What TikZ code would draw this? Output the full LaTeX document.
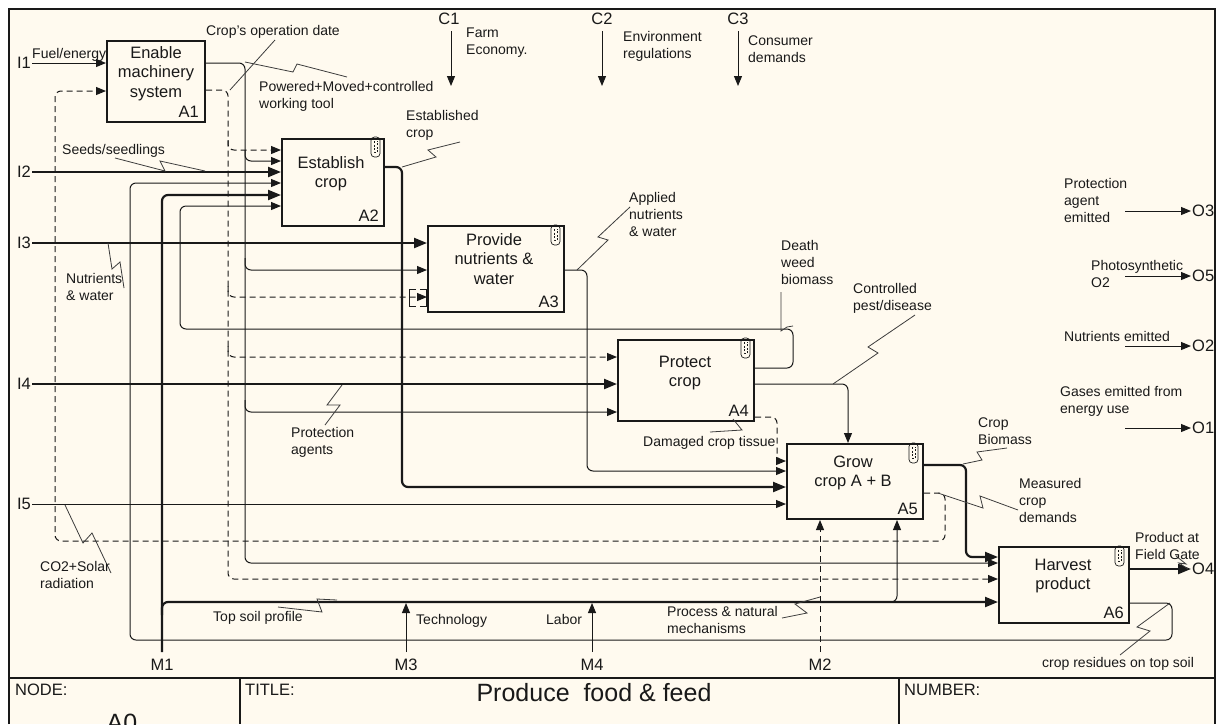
\documentclass[tikz,border=0pt]{standalone}
\usepackage{fontspec}
\setmainfont{Liberation Sans}
\usetikzlibrary{arrows.meta}
\definecolor{paper}{RGB}{255,250,239}
\definecolor{ink}{RGB}{25,25,25}
\newcommand{\lblfont}{\fontsize{14}{17.3}\selectfont}
\newcommand{\boxfont}{\fontsize{16.5}{19.5}\selectfont}
\newcommand{\icomfont}{\fontsize{16.5}{19.5}\selectfont}
\newcommand{\ttlfont}{\fontsize{25}{30}\selectfont}
\tikzset{
  box/.style={draw=ink,line width=2pt,inner sep=0pt},
  boxtitle/.style={font=\boxfont,align=center,inner sep=0pt,anchor=base,text=ink},
  boxnum/.style={font=\boxfont,inner sep=0pt,anchor=base east,text=ink},
  lbl/.style={font=\lblfont,align=left,inner sep=0pt,anchor=base west,text=ink},
  icom/.style={font=\icomfont,inner sep=0pt,text=ink},
  thn/.style={draw=ink,line width=1pt},
  thk/.style={draw=ink,line width=2.2pt},
  dsh/.style={draw=ink,line width=1pt,dash pattern=on 6pt off 4pt},
  arr/.style={-{Triangle[length=10pt,width=8pt]}},
  arrb/.style={-{Triangle[length=13pt,width=10pt]}},
  rc/.style={rounded corners=6pt},
  sq/.style={draw=ink!85,line width=0.8pt},
  clipicon/.pic={
    \draw[ink,line width=0.7pt,rounded corners=3.5pt] (0,0) -- (0,20) -- (9,20) -- (9,0) -- cycle;
    \draw[ink,line width=0.6pt,dash pattern=on 2pt off 1.5pt] (3,4) -- (3,15) -- (6,15) -- (6,4);
  }
}
\begin{document}
\begin{tikzpicture}[x=1pt,y=-1pt]
\useasboundingbox (0,0) rectangle (1218,724);
\fill[white] (0,0) rectangle (1218,724);
\fill[paper] (9,9) rectangle (1215,724);
\draw[ink,line width=1.6pt] (9,724) -- (9,9) -- (1215,9) -- (1215,724);

% ---------- boxes ----------
\node[box,minimum width=98pt,minimum height=81pt] (A1) at (156,81.5) {};
\node[box,minimum width=102pt,minimum height=87pt] (A2) at (333,182.5) {};
\node[box,minimum width=136pt,minimum height=86pt] (A3) at (496,269) {};
\node[box,minimum width=136pt,minimum height=81pt] (A4) at (686,380.5) {};
\node[box,minimum width=136pt,minimum height=75pt] (A5) at (855,481.5) {};
\node[box,minimum width=130pt,minimum height=76pt] (A6) at (1064,585) {};

\node[boxtitle] (A1t) at (156,97) {Enable\\machinery\\system};
\node[boxtitle] (A2t) at (331,187.5) {Establish\\crop};
\node[boxtitle] (A3t) at (494,284) {Provide\\nutrients \&\\water};
\node[boxtitle] (A4t) at (685,386.5) {Protect\\crop};
\node[boxtitle] (A5t) at (853,486.5) {Grow\\crop A + B};
\node[boxtitle] (A6t) at (1063,589.5) {Harvest\\product};

\node[boxnum] (A1n) at (199,117) {A1};
\node[boxnum] (A2n) at (379,221) {A2};
\node[boxnum] (A3n) at (559,307) {A3};
\node[boxnum] (A4n) at (749,416) {A4};
\node[boxnum] (A5n) at (918,514) {A5};
\node[boxnum] (A6n) at (1124,618) {A6};

\pic (P2) at (371,137) {clipicon};
\pic (P3) at (551,225) {clipicon};
\pic (P4) at (741,338) {clipicon};
\pic (P5) at (909,443) {clipicon};
\pic (P6) at (1115,546) {clipicon};

% ---------- boundary points ----------
\coordinate (I1) at (32,63);
\coordinate (I2) at (32,172);
\coordinate (I3) at (32,243);
\coordinate (I4) at (32,384);
\coordinate (I5) at (32,504);
\coordinate (C1) at (451,31);  \coordinate (C1e) at (451,86);
\coordinate (C2) at (602,31);  \coordinate (C2e) at (602,86);
\coordinate (C3) at (738,31);  \coordinate (C3e) at (738,86);
\coordinate (M1) at (162,652);
\coordinate (M2) at (820,652);
\coordinate (M3) at (406,652); \coordinate (M3e) at (406,603);
\coordinate (M4) at (592,652); \coordinate (M4e) at (592,603);
\coordinate (O3s) at (1125,211); \coordinate (O3) at (1191,211);
\coordinate (O5s) at (1125,276); \coordinate (O5) at (1191,276);
\coordinate (O2s) at (1125,346); \coordinate (O2) at (1191,346);
\coordinate (O1s) at (1125,428); \coordinate (O1) at (1191,428);
\coordinate (O4) at (1191,569);

% ---------- inputs ----------
\draw[thn,arr] (I1) -- (A1.west |- I1);
\draw[thk,arrb] (I2) -- (A2.west |- I2);
\draw[thk,arrb] (I3) -- (A3.west |- I3);
\draw[thk,arrb] (I4) -- (A4.west |- I4);
\draw[thn,arr] (I5) -- (A5.west |- I5);

% ---------- controls ----------
\draw[thn,arr] (C1) -- (C1e);
\draw[thn,arr] (C2) -- (C2e);
\draw[thn,arr] (C3) -- (C3e);

% ---------- A1 outputs ----------
\draw[thn,arr,rc] (A1.east |- 0,63) -- (245,63) -- (245,563) -- (A6.west |- 0,563);
\draw[thn,arr,rc] (245,150) -- (245,161) -- (A2.west |- 0,161);
\draw[thn,arr,rc] (245,258) -- (245,270) -- (A3.west |- 0,270);
\draw[thn,arr,rc] (245,400) -- (245,412) -- (A4.west |- 0,412);
\draw[dsh,arr,rc] (A1.east |- 0,90) -- (228,90) -- (228,579) -- (A6.west |- 0,579);
\draw[dsh,arr,rc] (228,140) -- (228,150) -- (A2.west |- 0,150);
\draw[dsh,arr,rc] (228,286) -- (228,297) -- (A3.west |- 0,297);
\draw[dsh,arr,rc] (228,346) -- (228,357) -- (A4.west |- 0,357);
% tunnel brackets
\draw[ink,line width=0.8pt] (416,289) -- (409,289) -- (409,306) -- (416,306);
\draw[ink,line width=0.8pt] (420,289) -- (426,289) -- (426,306) -- (420,306);

% ---------- mechanisms ----------
\draw[thk,arrb,rc] (M1) -- (162,195) -- (A2.west |- 0,195);
\draw[thk,arrb,rc] (162,615) -- (162,602) -- (A6.west |- 0,602);
\draw[thn,arr,rc] (885,602) -- (897,602) -- (A5.south -| 897,0);
\draw[thn,arr] (M3) -- (M3e);
\draw[thn,arr] (M4) -- (M4e);
\draw[dsh,arr] (M2) -- (A5.south -| M2);

% ---------- internal flows ----------
\draw[thk,arrb,rc] (A2.east |- 0,167) -- (402,167) -- (402,487) -- (A5.west |- 0,487);
\draw[thn,arr,rc] (A3.east |- 0,270) -- (587,270) -- (587,471) -- (A5.west |- 0,471);
\draw[thn,arr,rc] (A4.east |- 0,368) -- (793,368) -- (793,329) -- (180,329) -- (180,206) -- (A2.west |- 0,206);
\draw[thn,arr,rc] (A4.east |- 0,384) -- (848,384) -- (A5.north -| 848,0);
\draw[dsh,arr,rc] (A4.east |- 0,417) -- (777,417) -- (777,461) -- (A5.west |- 0,461);
\draw[thk,arrb,rc] (A5.east |- 0,465) -- (966,465) -- (966,557) -- (A6.west |- 0,557);
\draw[dsh,arr,rc] (A5.east |- 0,493) -- (945,493) -- (945,541) -- (55,541) -- (55,91) -- (A1.west |- 0,91);
\draw[thn,arr,rc] (A6.east |- 0,603) -- (1172,603) -- (1172,640) -- (130,640) -- (130,183) -- (A2.west |- 0,183);

% ---------- outputs ----------
\draw[thk,arrb] (A6.east |- O4) -- (O4);
\draw[thn,arr] (O3s) -- (O3);
\draw[thn,arr] (O5s) -- (O5);
\draw[thn,arr] (O2s) -- (O2);
\draw[thn,arr] (O1s) -- (O1);

% ---------- squiggles ----------
\draw[sq] (275,40) -- (230,90);
\draw[sq] (245,62) -- (293,72) -- (297,64) -- (347,77);
\draw[sq] (115,158) -- (165,171) -- (160,161) -- (205,171);
\draw[sq] (402,167) -- (436,157) -- (428,150) -- (460,142);
\draw[sq] (577,270) -- (608,240) -- (598,237) -- (630,207);
\draw[sq] (108,243) -- (112,269) -- (120,262) -- (124,288);
\draw[sq] (781,292) -- (781,331) -- (787,327) -- (793,326);
\draw[sq] (833,384) -- (878,353) -- (868,347) -- (915,315);
\draw[sq] (342,385) -- (327,405) -- (340,405) -- (325,425);
\draw[sq] (733,419) -- (742,430) -- (710,432);
\draw[sq] (963,464) -- (982,460) -- (977,452) -- (1007,448);
\draw[sq] (938,493) -- (983,508) -- (980,496) -- (1018,510);
\draw[sq] (1176,556) -- (1186,564) -- (1179,563) -- (1188,569);
\draw[sq] (65,505) -- (83,543) -- (92,533) -- (111,573);
\draw[sq] (278,607) -- (322,612) -- (317,599) -- (337,600);
\draw[sq] (782,618) -- (807,613) -- (795,604) -- (820,597);
\draw[sq] (1170,603) -- (1137,627) -- (1150,631) -- (1120,655);

% ---------- labels (base = last line) ----------
\node[lbl] (l1) at (206,35) {Crop's operation date};
\node[lbl] (l2) at (32,58) {Fuel/energy};
\node[lbl] (l3) at (259,108.3) {Powered+Moved+controlled\\working tool};
\node[lbl] (l4) at (62,154) {Seeds/seedlings};
\node[lbl] (l5) at (406,137.3) {Established\\crop};
\node[lbl] (l6) at (466,54.3) {Farm\\Economy.};
\node[lbl] (l7) at (623,58.3) {Environment\\regulations};
\node[lbl] (l8) at (748,62.3) {Consumer\\demands};
\node[lbl] (l9) at (629,236.6) {Applied\\nutrients\\\& water};
\node[lbl] (l10) at (1064,222.6) {Protection\\agent\\emitted};
\node[lbl] (l11) at (66,300.3) {Nutrients\\\& water};
\node[lbl] (l12) at (781,284.6) {Death\\weed\\biomass};
\node[lbl] (l13) at (853,310.3) {Controlled\\pest/disease};
\node[lbl] (l14) at (1091,287.3) {Photosynthetic\\O2};
\node[lbl] (l15) at (1064,341) {Nutrients emitted};
\node[lbl] (l16) at (1060,413.3) {Gases emitted from\\energy use};
\node[lbl] (l17) at (291,454.3) {Protection\\agents};
\node[lbl] (l18) at (643,446) {Damaged crop tissue};
\node[lbl] (l19) at (978,444.3) {Crop\\Biomass};
\node[lbl] (l20) at (1019,522.6) {Measured\\crop\\demands};
\node[lbl] (l21) at (1135,559.3) {Product at\\Field Gate};
\node[lbl] (l22) at (40,588.3) {CO2+Solar\\radiation};
\node[lbl] (l23) at (213,621) {Top soil profile};
\node[lbl] (l24) at (416,624) {Technology};
\node[lbl] (l25) at (546,624) {Labor};
\node[lbl] (l26) at (667,633.3) {Process \& natural\\mechanisms};
\node[lbl] (l27) at (1042,667) {crop residues on top soil};

% ---------- ICOM codes ----------
\node[icom,anchor=east] (tI1) at (31,63) {I1};
\node[icom,anchor=east] (tI2) at (31,172) {I2};
\node[icom,anchor=east] (tI3) at (31,243) {I3};
\node[icom,anchor=east] (tI4) at (31,384) {I4};
\node[icom,anchor=east] (tI5) at (31,504) {I5};
\node[icom,anchor=base] (tC1) at (449,24) {C1};
\node[icom,anchor=base] (tC2) at (602,24) {C2};
\node[icom,anchor=base] (tC3) at (738,24) {C3};
\node[icom,anchor=base] (tM1) at (162,670) {M1};
\node[icom,anchor=base] (tM3) at (406,670) {M3};
\node[icom,anchor=base] (tM4) at (592,670) {M4};
\node[icom,anchor=base] (tM2) at (820,670) {M2};
\node[icom,anchor=west] (tO3) at (1192,211) {O3};
\node[icom,anchor=west] (tO5) at (1192,276) {O5};
\node[icom,anchor=west] (tO2) at (1192,346) {O2};
\node[icom,anchor=west] (tO1) at (1192,428) {O1};
\node[icom,anchor=west] (tO4) at (1192,569) {O4};

% ---------- title block ----------
\draw[ink,line width=1.2pt] (9,678) -- (1215,678);
\draw[ink,line width=1.2pt] (240,678) -- (240,724);
\draw[ink,line width=1.2pt] (899,678) -- (899,724);
\node[icom,anchor=base west] (tnode) at (15,695) {NODE:};
\node[icom,anchor=base west] (ttitle) at (245,695) {TITLE:};
\node[icom,anchor=base west] (tnum) at (904,695) {NUMBER:};
\node[inner sep=0pt,anchor=base,font=\ttlfont,text=ink] (ttl) at (594,701) {Produce\ \ food \& feed};
\node[inner sep=0pt,anchor=base,font=\ttlfont,text=ink] (tA0) at (122,731) {A0};
\end{tikzpicture}
\end{document}
